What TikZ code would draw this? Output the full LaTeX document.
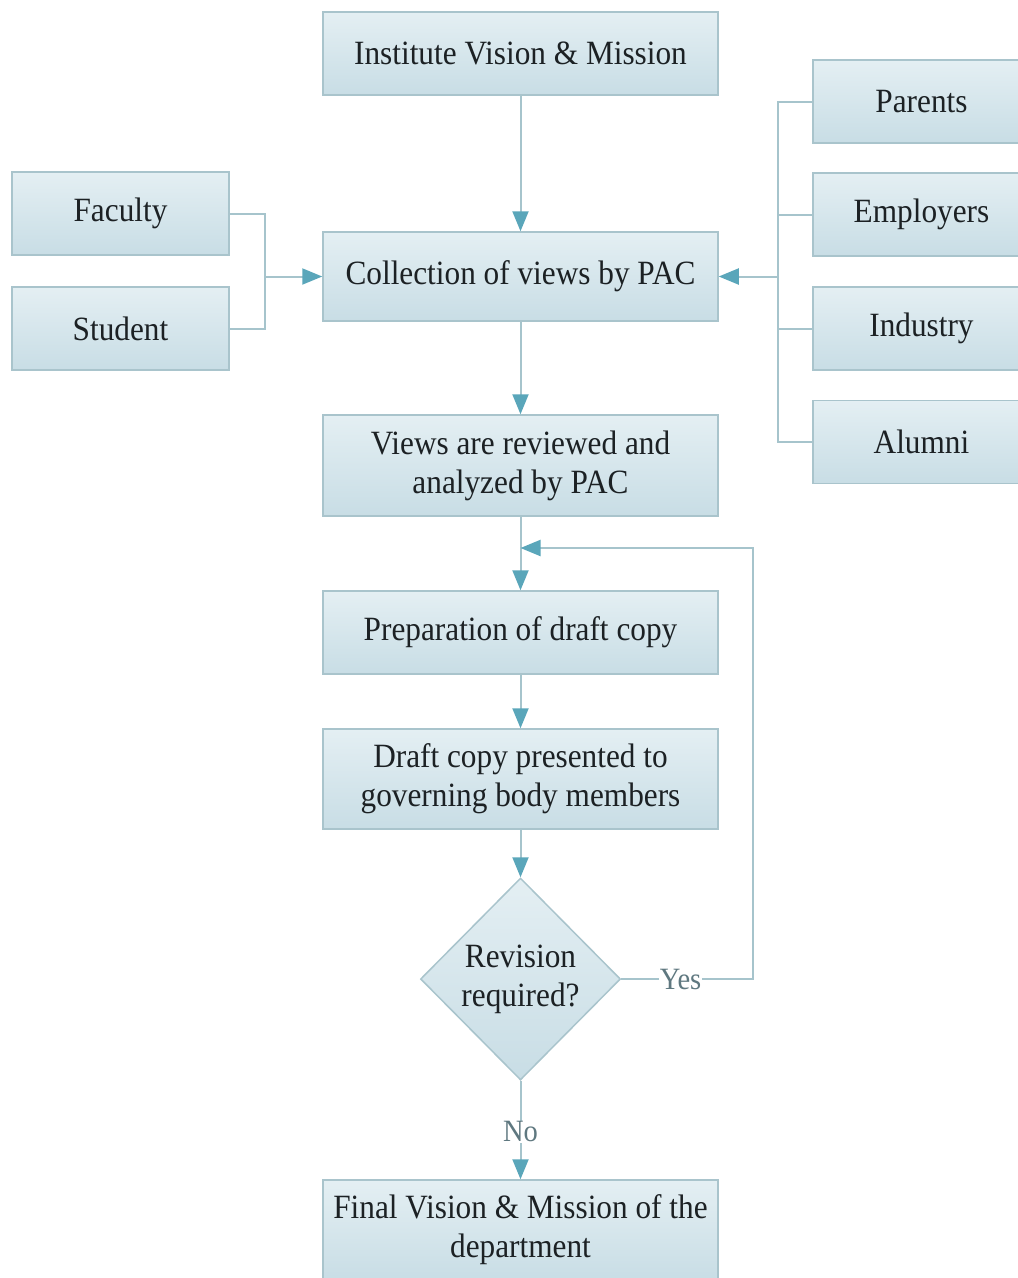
\documentclass[tikz,border=0pt]{standalone}
\usepackage{fontspec}
\setmainfont{Liberation Serif}[FakeStretch=0.92]
\usetikzlibrary{arrows.meta,shapes.geometric}

\definecolor{boxtop}{HTML}{E4EFF3}
\definecolor{boxbot}{HTML}{C8DDE5}
\definecolor{boxedge}{HTML}{A9C4CC}
\definecolor{wire}{HTML}{A6C4CC}
\definecolor{tipcol}{HTML}{5AA6BA}
\definecolor{ink}{HTML}{1C2124}
\definecolor{labelink}{HTML}{5F7880}

\tikzset{
  box/.style={draw=boxedge, line width=1.5pt, top color=boxtop, bottom color=boxbot,
    text=ink, align=center, inner sep=0pt,
    font=\fontsize{34}{39}\selectfont},
  mainbox/.style={box, minimum width=395pt},
  sidebox/.style={box, minimum width=217pt, minimum height=83pt},
  decision/.style={diamond, draw=boxedge, line width=1.5pt, top color=boxtop, bottom color=boxbot,
    inner sep=0pt, minimum width=200pt, minimum height=202pt},
  wireline/.style={draw=wire, line width=2pt},
  flow/.style={wireline, -{Triangle[length=20pt, width=16pt, color=tipcol]}},
  branch/.style={fill=white, text=labelink, inner sep=1pt,
    font=\fontsize{31}{36}\selectfont}
}

\begin{document}
\begin{tikzpicture}[x=1pt, y=1pt]
  \useasboundingbox (0,0) rectangle (1018,-1278);
  \fill[white] (0,0) rectangle (1018,-1278);
  \clip (0,0) rectangle (1018,-1278);

  % main column
  \node[mainbox, minimum height=83pt]  (inst)  at (520.5,-53.5)  {Institute Vision \& Mission};
  \node[mainbox, minimum height=89pt]  (coll)  at (520.5,-276.5) {Collection of views by PAC};
  \node[mainbox, minimum height=101pt] (views) at (520.5,-465.5) {Views are reviewed and\\analyzed by PAC};
  \node[mainbox, minimum height=83pt]  (prep)  at (520.5,-632.5) {Preparation of draft copy};
  \node[mainbox, minimum height=100pt] (draft) at (520.5,-779)   {Draft copy presented to\\governing body members};
  \node[decision] (rev) at (520.5,-979) {};
  \node[text=ink, align=center, font=\fontsize{34}{39}\selectfont] (revtext) at (520.5,-979) {Revision\\required?};
  \node[mainbox, minimum height=100pt] (final) at (520.5,-1230)  {Final Vision \& Mission of the\\department};

  % left stakeholders
  \node[sidebox] (fac) at (120.5,-213.5) {Faculty};
  \node[sidebox] (stu) at (120.5,-328.5) {Student};

  % right stakeholders
  \node[sidebox] (par) at (921.5,-101.5) {Parents};
  \node[sidebox] (emp) at (921.5,-214.5) {Employers};
  \node[sidebox] (ind) at (921.5,-328.5) {Industry};
  \node[sidebox] (alu) at (921.5,-442)   {Alumni};

  % junction points
  \coordinate (lj) at (265,-276.5);
  \coordinate (rj) at (778,-276.5);
  \coordinate (loopin) at (520.5,-548);
  \coordinate (loopc) at (753,-979);

  % vertical flow
  \draw[flow] (inst) -- (coll);
  \draw[flow] (coll) -- (views);
  \draw[wireline] (views.south) -- (loopin);
  \draw[flow] (loopin) -- (prep.north);
  \draw[flow] (prep) -- (draft);
  \draw[flow] (draft.south) -- (rev.north);
  \draw[flow] (rev.south) -- node[branch, pos=0.52] (no) {No} (final.north);

  % revision loop
  \draw[flow] (rev.east) -- node[branch, pos=0.45] (yes) {Yes} (loopc) |- (loopin);

  % left bracket
  \draw[wireline] (fac.east) -| (lj |- stu.east) -- (stu.east);
  \draw[flow] (lj) -- (coll.west);

  % right bracket
  \draw[wireline] (par.west) -| (rj |- alu.west) -- (alu.west);
  \draw[wireline] (emp.west) -- (rj |- emp.west);
  \draw[wireline] (ind.west) -- (rj |- ind.west);
  \draw[flow] (rj) -- (coll.east);
\end{tikzpicture}
\end{document}
